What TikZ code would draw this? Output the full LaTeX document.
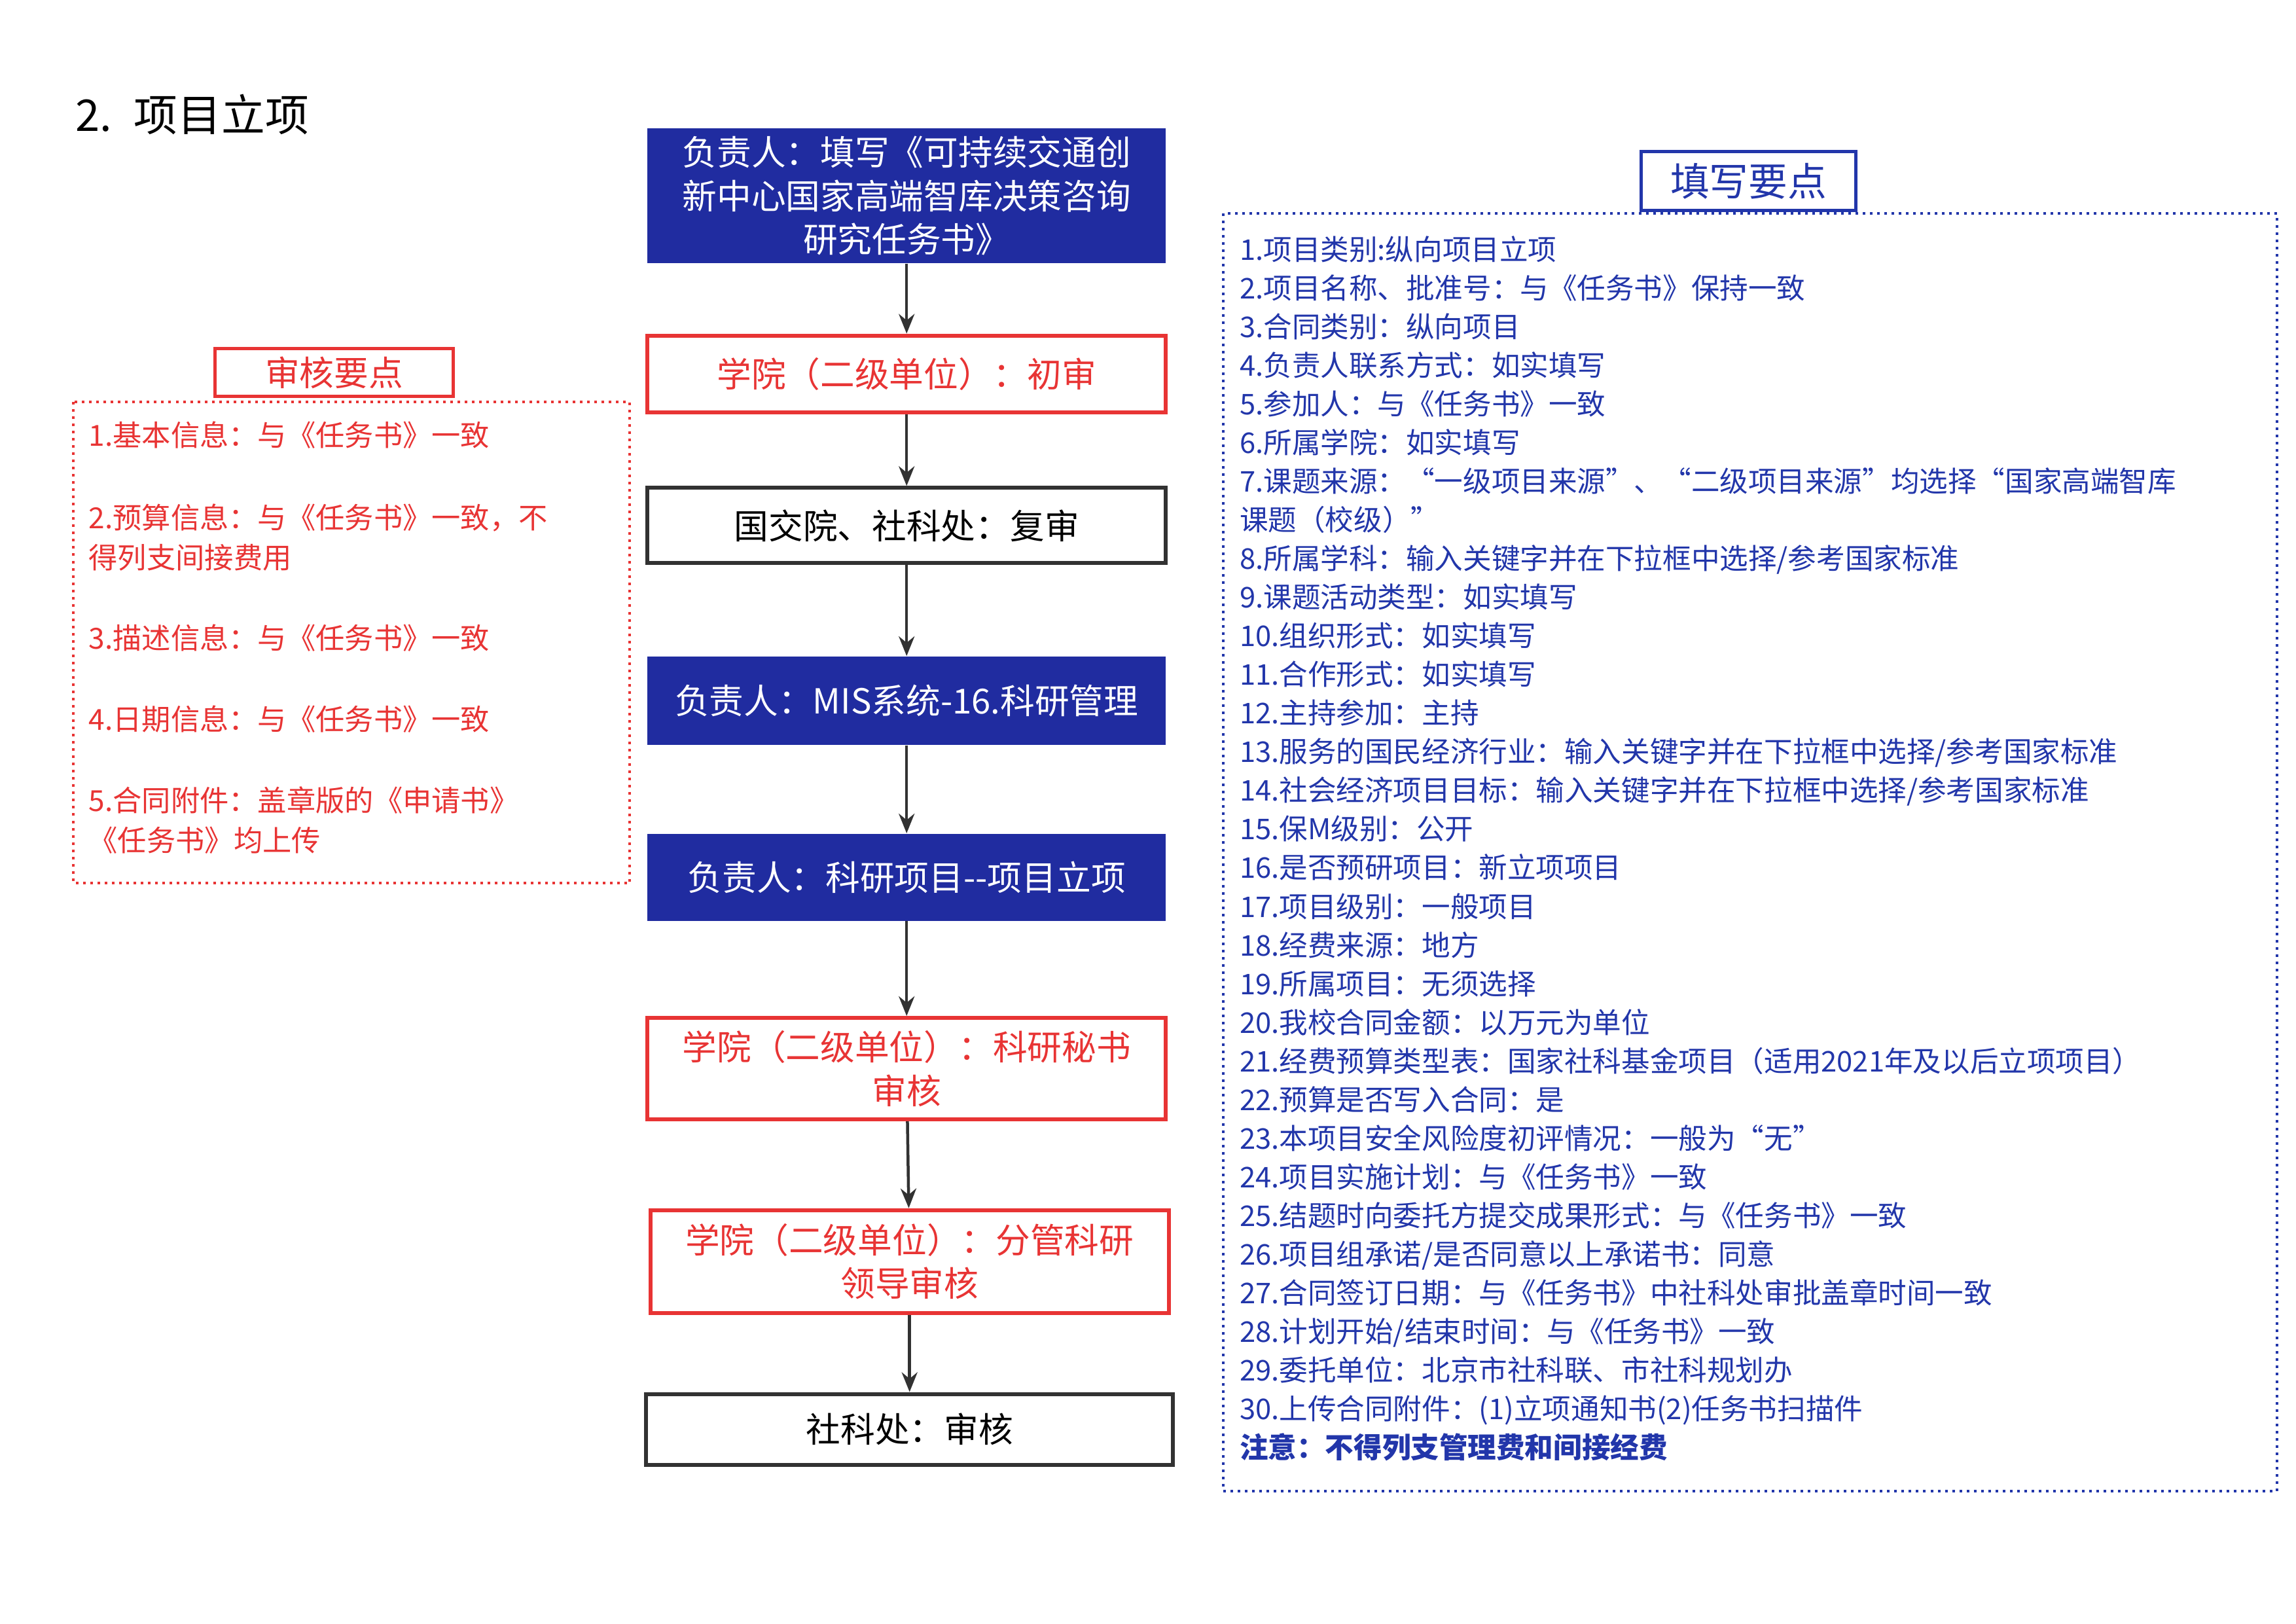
\documentclass[tikz,border=0pt]{standalone}
\usepackage{fontspec}
\setmainfont{Noto Sans CJK SC}
\usetikzlibrary{arrows.meta}
\definecolor{boxblue}{RGB}{32,44,160}
\definecolor{notered}{RGB}{232,52,52}
\definecolor{noteblue}{RGB}{34,54,170}
\definecolor{arrowgray}{RGB}{50,50,50}
\tikzset{
  bluebox/.style={rectangle, fill=boxblue, text=white, minimum width=79.2mm, align=center, font=\fontsize{15}{19}\selectfont},
  redbox/.style={rectangle, draw=notered, line width=0.6mm, text=notered, minimum width=79.2mm, align=center, font=\fontsize{15}{19}\selectfont},
  blackbox/.style={rectangle, draw=arrowgray, line width=0.6mm, text=black, minimum width=79.2mm, align=center, font=\fontsize{15}{19}\selectfont},
  flow/.style={-{Stealth[length=3mm,width=2.4mm]}, line width=0.45mm, draw=arrowgray},
  rednote/.style={text=notered, anchor=north west, align=left, text width=82mm, font=\fontsize{12.6}{17.3}\selectfont, inner sep=0pt}
}
\begin{document}
\begin{tikzpicture}[x=0.2249mm, y=-0.2249mm]
\useasboundingbox (0,0) rectangle (1560,1103);
% Title
\node[anchor=west, font=\fontsize{19}{22}\selectfont] (title) at (46, 78) {2.\enspace 项目立项};

% Flow column
\node[bluebox, minimum height=20.2mm] (start) at (616, 133) {负责人：填写《可持续交通创\\新中心国家高端智库决策咨询\\研究任务书》};
\node[redbox, minimum height=11.7mm] (first) at (616, 254) {学院（二级单位）：初审};
\node[blackbox, minimum height=11.5mm] (second) at (616, 357) {国交院、社科处：复审};
\node[bluebox, minimum height=13.5mm] (mis) at (616, 476) {负责人：MIS系统-16.科研管理};
\node[bluebox, minimum height=13.3mm] (project) at (616, 596) {负责人：科研项目-{}-项目立项};
\node[redbox, minimum height=15.5mm] (secretary) at (616, 726) {学院（二级单位）：科研秘书\\审核};
\node[redbox, minimum height=15.7mm] (leader) at (618, 857) {学院（二级单位）：分管科研\\领导审核};
\node[blackbox, minimum height=10.8mm, minimum width=80.5mm] (office) at (618, 971) {社科处：审核};

\draw[flow] (start) -- (first);
\draw[flow] (first) -- (second);
\draw[flow] (second) -- (mis);
\draw[flow] (mis) -- (project);
\draw[flow] (project) -- (secretary);
\draw[flow] (secretary) -- (leader);
\draw[flow] (leader) -- (office);

% Review points
\node[rectangle, draw=notered, line width=0.5mm, text=notered, minimum width=36.4mm, minimum height=6.7mm, font=\fontsize{15}{18}\selectfont] (review) at (227, 253) {审核要点};
\draw[notered, dotted, line width=0.4mm] (50, 273) rectangle (428, 600);
\node[rednote] (r1) at (60, 286) {1.基本信息：与《任务书》一致};
\node[rednote] (r2) at (60, 342) {2.预算信息：与《任务书》一致，不\\得列支间接费用};
\node[rednote] (r3) at (60, 424) {3.描述信息：与《任务书》一致};
\node[rednote] (r4) at (60, 479) {4.日期信息：与《任务书》一致};
\node[rednote] (r5) at (60, 534) {5.合同附件：盖章版的《申请书》\\《任务书》均上传};

% Filling points
\node[rectangle, draw=noteblue, line width=0.5mm, text=noteblue, minimum width=32.8mm, minimum height=9mm, font=\fontsize{17}{20}\selectfont] (fill) at (1188, 123) {填写要点};
\draw[noteblue, dotted, line width=0.4mm] (831, 145) rectangle (1547, 1013);
\node[anchor=north west, text=noteblue, align=left, inner sep=0pt, font=\fontsize{12.4}{16.8}\selectfont] (list) at (842, 160) {%
1.项目类别:纵向项目立项\\
2.项目名称、批准号：与《任务书》保持一致\\
3.合同类别：纵向项目\\
4.负责人联系方式：如实填写\\
5.参加人：与《任务书》一致\\
6.所属学院：如实填写\\
7.课题来源：“一级项目来源”、“二级项目来源”均选择“国家高端智库\\
课题（校级）”\\
8.所属学科：输入关键字并在下拉框中选择/参考国家标准\\
9.课题活动类型：如实填写\\
10.组织形式：如实填写\\
11.合作形式：如实填写\\
12.主持参加：主持\\
13.服务的国民经济行业：输入关键字并在下拉框中选择/参考国家标准\\
14.社会经济项目目标：输入关键字并在下拉框中选择/参考国家标准\\
15.保M级别：公开\\
16.是否预研项目：新立项项目\\
17.项目级别：一般项目\\
18.经费来源：地方\\
19.所属项目：无须选择\\
20.我校合同金额：以万元为单位\\
21.经费预算类型表：国家社科基金项目（适用2021年及以后立项项目）\\
22.预算是否写入合同：是\\
23.本项目安全风险度初评情况：一般为“无”\\
24.项目实施计划：与《任务书》一致\\
25.结题时向委托方提交成果形式：与《任务书》一致\\
26.项目组承诺/是否同意以上承诺书：同意\\
27.合同签订日期：与《任务书》中社科处审批盖章时间一致\\
28.计划开始/结束时间：与《任务书》一致\\
29.委托单位：北京市社科联、市社科规划办\\
30.上传合同附件：(1)立项通知书(2)任务书扫描件\\
\textbf{注意：不得列支管理费和间接经费}};
\end{tikzpicture}
\end{document}
